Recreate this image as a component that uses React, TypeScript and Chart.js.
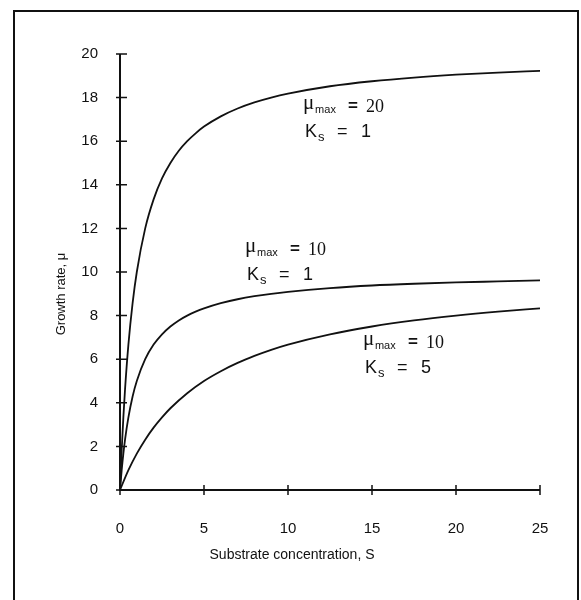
import React, { useEffect, useRef } from "react";
import { Chart, registerables } from "chart.js";

Chart.register(...registerables);

// Substrate concentration S (x values)
const sHigh = [0, 0.1, 0.2, 0.3, 0.5, 0.75, 1, 1.5, 2, 2.5, 3, 3.5, 4, 4.5, 5, 6, 7, 8, 9, 10, 12.5, 15, 17.5, 20, 22.5, 25];
// μmax = 20, Ks = 1
const muCurveA = [0, 1.82, 3.33, 4.62, 6.67, 8.57, 10, 12, 13.33, 14.29, 15, 15.56, 16, 16.36, 16.67, 17.14, 17.5, 17.78, 18, 18.18, 18.52, 18.75, 18.92, 19.05, 19.15, 19.23];
// μmax = 10, Ks = 1
const muCurveB = [0, 0.91, 1.67, 2.31, 3.33, 4.29, 5, 6, 6.67, 7.14, 7.5, 7.78, 8, 8.18, 8.33, 8.57, 8.75, 8.89, 9, 9.09, 9.26, 9.38, 9.46, 9.52, 9.57, 9.62];
// μmax = 10, Ks = 5
const sLow = [0, 0.5, 1, 1.5, 2, 2.5, 3, 4, 5, 6, 7, 8, 9, 10, 12.5, 15, 17.5, 20, 22.5, 25];
const muCurveC = [0, 0.91, 1.67, 2.31, 2.86, 3.33, 3.75, 4.44, 5, 5.45, 5.83, 6.15, 6.43, 6.67, 7.14, 7.5, 7.78, 8, 8.18, 8.33];

const xTicks = [0, 5, 10, 15, 20, 25];
const yTicks = [0, 2, 4, 6, 8, 10, 12, 14, 16, 18, 20];

// curve annotations, anchored in data units (S, μ)
const curveLabels = [
  { muMax: "20", ks: "1", s: 10.9, mu: 17.33 },
  { muMax: "10", ks: "1", s: 7.44, mu: 10.76 },
  { muMax: "10", ks: "5", s: 14.46, mu: 6.53 },
];

const xTitle = "Substrate concentration, S";
const yTitle = "Growth rate, \u03bc";

const toPts = (xs: number[], ys: number[]) => xs.map((x, i) => ({ x, y: ys[i] }));

const SANS = "Arial, 'Liberation Sans', Helvetica, sans-serif";
const SERIF = "'Times New Roman', 'Liberation Serif', serif";

const decorPlugin = {
  id: "decor",
  afterDraw(chart: any) {
    const ctx = chart.ctx as CanvasRenderingContext2D;
    const xs = chart.scales.x;
    const ys = chart.scales.y;
    const x0 = xs.getPixelForValue(0);
    const y0 = ys.getPixelForValue(0);
    ctx.save();
    ctx.strokeStyle = "#111";
    ctx.fillStyle = "#111";
    ctx.lineWidth = 2;
    // axes
    ctx.beginPath();
    ctx.moveTo(x0, ys.getPixelForValue(20));
    ctx.lineTo(x0, y0);
    ctx.lineTo(xs.getPixelForValue(25), y0);
    ctx.stroke();
    // ticks
    ctx.lineWidth = 1.5;
    ctx.beginPath();
    xTicks.forEach((v) => {
      const px = xs.getPixelForValue(v);
      ctx.moveTo(px, y0 - 5);
      ctx.lineTo(px, y0 + 5);
    });
    yTicks.forEach((v) => {
      const py = ys.getPixelForValue(v);
      ctx.moveTo(x0 - 4, py);
      ctx.lineTo(x0 + 7, py);
    });
    ctx.stroke();

    // curve labels
    ctx.textBaseline = "alphabetic";
    ctx.textAlign = "left";
    curveLabels.forEach((l) => {
      const px = xs.getPixelForValue(l.s);
      const py = ys.getPixelForValue(l.mu);
      ctx.font = `21px ${SERIF}`;
      ctx.fillText("\u03bc", px, py - 3);
      ctx.font = `11px ${SANS}`;
      ctx.fillText("max", px + 12, py + 1);
      ctx.font = `bold 17px ${SANS}`;
      ctx.fillText("=", px + 45, py - 1);
      ctx.font = `18px ${SERIF}`;
      ctx.fillText(l.muMax, px + 63, py);
      const ky = py + 25;
      ctx.font = `18px ${SANS}`;
      ctx.fillText("K", px + 2, ky);
      ctx.font = `13px ${SANS}`;
      ctx.fillText("s", px + 15, ky + 4);
      ctx.font = `18px ${SANS}`;
      ctx.fillText("=", px + 34, ky);
      ctx.fillText(l.ks, px + 58, ky);
    });

    // titles
    ctx.font = `14px ${SANS}`;
    ctx.textAlign = "center";
    ctx.textBaseline = "middle";
    ctx.fillText(xTitle, 292, 555);
    ctx.save();
    ctx.translate(61, 294);
    ctx.rotate(-Math.PI / 2);
    ctx.font = `13px ${SANS}`;
    ctx.fillText(yTitle, 0, 0);
    ctx.restore();

    // frame
    ctx.lineWidth = 2;
    ctx.beginPath();
    ctx.moveTo(14, 640);
    ctx.lineTo(14, 11);
    ctx.lineTo(578, 11);
    ctx.lineTo(578, 640);
    ctx.stroke();
    ctx.restore();
  },
};

export default function App() {
  const ref = useRef<HTMLCanvasElement | null>(null);
  useEffect(() => {
    if (!ref.current) return;
    const lineStyle = {
      borderColor: "#111",
      borderWidth: 1.8,
      pointRadius: 0,
      fill: false,
      cubicInterpolationMode: "monotone" as const,
    };
    const chart = new Chart(ref.current, {
      type: "line",
      data: {
        datasets: [
          { label: "μmax=20, Ks=1", data: toPts(sHigh, muCurveA), ...lineStyle },
          { label: "μmax=10, Ks=1", data: toPts(sHigh, muCurveB), ...lineStyle },
          { label: "μmax=10, Ks=5", data: toPts(sLow, muCurveC), ...lineStyle },
        ],
      },
      options: {
        animation: false,
        responsive: true,
        maintainAspectRatio: false,
        layout: { padding: { left: 60, right: 41, top: 54, bottom: 0 } },
        plugins: { legend: { display: false }, tooltip: { enabled: false } },
        scales: {
          x: {
            type: "linear",
            min: 0,
            max: 25,
            grid: { display: false, drawTicks: false },
            border: { display: false },
            afterBuildTicks: (s: any) => {
              s.ticks = xTicks.map((v) => ({ value: v }));
            },
            afterFit: (s: any) => {
              s.height = 110;
            },
            ticks: {
              padding: 30,
              color: "#111",
              font: { family: SANS, size: 15 },
              maxRotation: 0,
            },
          },
          y: {
            type: "linear",
            min: 0,
            max: 20,
            grid: { display: false, drawTicks: false },
            border: { display: false },
            afterBuildTicks: (s: any) => {
              s.ticks = yTicks.map((v) => ({ value: v }));
            },
            afterFit: (s: any) => {
              s.width = 60;
            },
            ticks: {
              padding: 22,
              color: "#111",
              font: { family: SANS, size: 15 },
            },
          },
        },
      },
      plugins: [decorPlugin],
    });
    return () => chart.destroy();
  }, []);
  return (
    <div style={{ position: "absolute", left: 0, top: 0, width: 581, height: 600, background: "#fff" }}>
      <canvas ref={ref} />
    </div>
  );
}
